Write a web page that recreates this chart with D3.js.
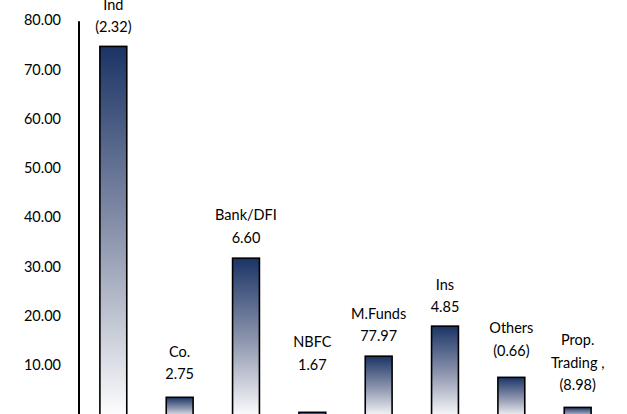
<!DOCTYPE html>
<html>
<head>
<meta charset="utf-8">
<script src="https://cdn.jsdelivr.net/npm/d3@7"></script>
<style>
  html, body { margin: 0; padding: 0; background: #ffffff; }
  svg { display: block; }
  text { font-family: Lato, "Open Sans", sans-serif; fill: #000; }
</style>
</head>
<body>
<div id="chart"></div>
<script>
// ---- data ----
const categories = ["Ind", "Co.", "Bank/DFI", "NBFC", "M.Funds", "Ins", "Others", "Prop. Trading"];
const values = [74.7, 3.45, 31.7, 0.4, 11.8, 17.9, 7.5, 1.4];
const labelLines = [
  ["Ind", "(2.32)"],
  ["Co.", "2.75"],
  ["Bank/DFI", "6.60"],
  ["NBFC", "1.67"],
  ["M.Funds", "77.97"],
  ["Ins", "4.85"],
  ["Others", "(0.66)"],
  ["Prop.", "Trading ,", "(8.98)"]
];
// value (in axis units) at which the last line of each data label sits
const labelAt = [78.6, 8.1, 35.9, 10.1, 15.9, 21.8, 12.9, 5.9];
const yTicks = [10, 20, 30, 40, 50, 60, 70, 80];

// ---- chart ----
const W = 627, H = 414;
const svg = d3.select("#chart").append("svg").attr("width", W).attr("height", H);

const defs = svg.append("defs");
const grad = defs.append("linearGradient")
  .attr("id", "barGrad").attr("x1", 0).attr("y1", 0).attr("x2", 0).attr("y2", 1);
grad.append("stop").attr("offset", "0%").attr("stop-color", "#1b3466");
grad.append("stop").attr("offset", "50%").attr("stop-color", "#8a93ac");
grad.append("stop").attr("offset", "100%").attr("stop-color", "#ffffff");

const x = d3.scaleBand().domain(categories).range([80, 611]).paddingInner(0.595).paddingOuter(0.3);
const y = d3.scaleLinear().domain([0, 80]).range([414.3, 20.3]);

// y axis labels
svg.append("g").selectAll("text").data(yTicks).join("text")
  .attr("x", 61).attr("y", d => y(d)).attr("dy", "0.35em")
  .attr("text-anchor", "end").attr("font-size", 14.5)
  .text(d => d3.format(".2f")(d));

// axis line
svg.append("line")
  .attr("x1", 79).attr("x2", 79)
  .attr("y1", y(80) + 1).attr("y2", y(0) + 2)
  .attr("stroke", "#000").attr("stroke-width", 2);

// bars
svg.append("g").selectAll("rect").data(values).join("rect")
  .attr("x", (d, i) => x(categories[i]))
  .attr("width", x.bandwidth())
  .attr("y", d => y(d))
  .attr("height", d => y(0) - y(d) + 4)
  .attr("fill", "url(#barGrad)")
  .attr("stroke", "#000").attr("stroke-width", 1.6);

// data labels
const lh = 22.5;
const lg = svg.append("g");
labelLines.forEach((lines, i) => {
  const cx = x(categories[i]) + x.bandwidth() / 2;
  const lastY = y(labelAt[i]);
  lines.forEach((t, j) => {
    lg.append("text")
      .attr("x", cx)
      .attr("y", lastY - (lines.length - 1 - j) * lh)
      .attr("dy", "0.35em")
      .attr("text-anchor", "middle")
      .attr("font-size", 14.5)
      .text(t);
  });
});
</script>
</body>
</html>
